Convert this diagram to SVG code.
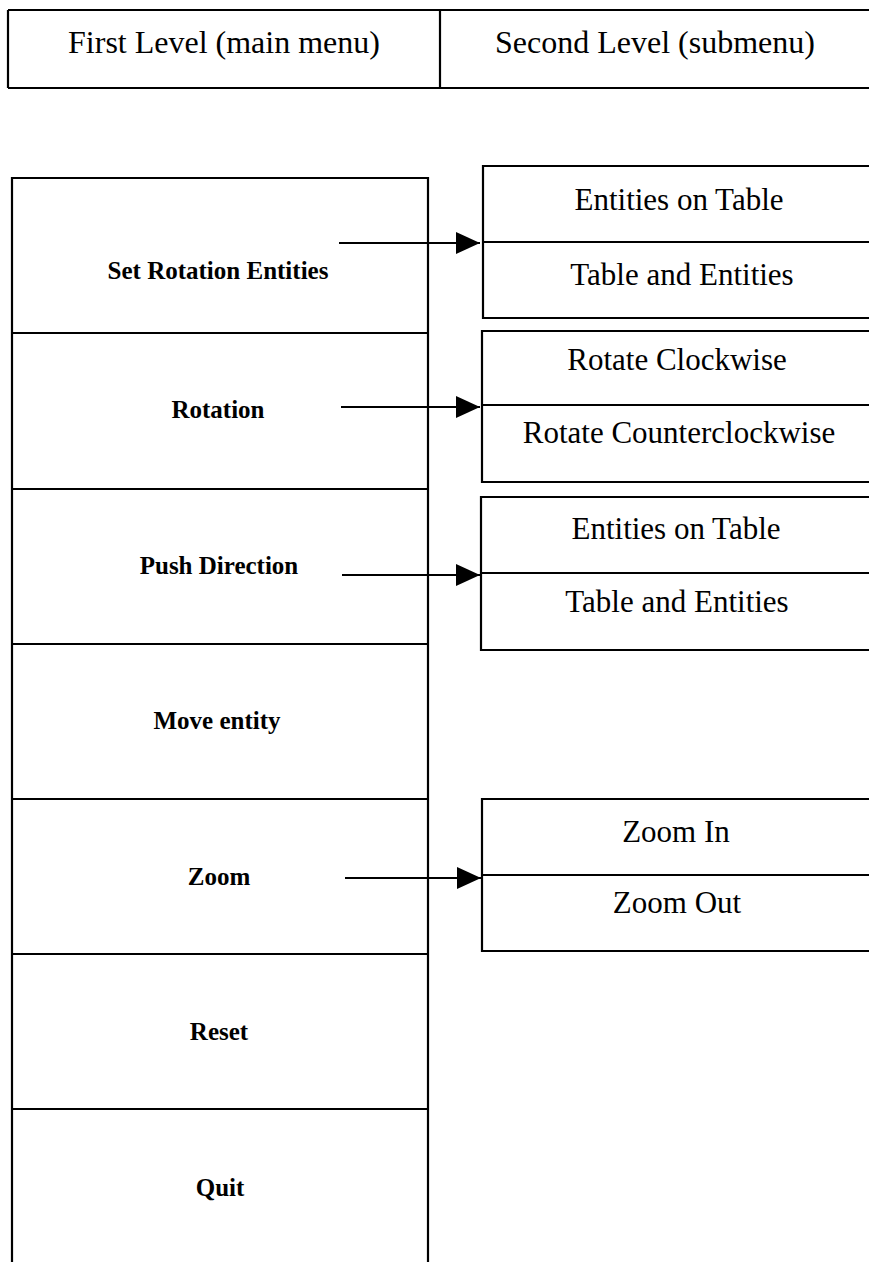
<svg xmlns="http://www.w3.org/2000/svg" width="869" height="1262" viewBox="0 0 869 1262">
<style>
.ln{stroke:#000;stroke-width:2.2;fill:none}
.hd{font-family:"Liberation Serif",serif;font-size:32px;text-anchor:middle;fill:#000}
.sub{font-family:"Liberation Serif",serif;font-size:31px;text-anchor:middle;fill:#000}
.lt{font-family:"Liberation Serif",serif;font-size:25px;font-weight:bold;text-anchor:middle;fill:#000}
</style>
<defs>
<marker id="ah" markerWidth="24" markerHeight="22" refX="24" refY="11" orient="auto" markerUnits="userSpaceOnUse">
<path d="M0,0 L24,11 L0,22 Z" fill="#000"/>
</marker>
</defs>
<rect width="869" height="1262" fill="#fff"/>
<g id="header">
<path class="ln" d="M8,10 H870 M8,88 H870 M8,10 V88 M440,10 V88"/>
<text class="hd" x="224" y="53">First Level (main menu)</text>
<text class="hd" x="655" y="53">Second Level (submenu)</text>
</g>
<g id="col1">
<path class="ln" d="M12,1262 V178 H428 V1262"/>
</g>
<g id="n-setrot"><text class="lt" x="218" y="279">Set Rotation Entities</text></g>
<g id="n-rotation"><path class="ln" d="M12,333 H428"/><text class="lt" x="218" y="418">Rotation</text></g>
<g id="n-push"><path class="ln" d="M12,489 H428"/><text class="lt" x="219" y="574">Push Direction</text></g>
<g id="n-move"><path class="ln" d="M12,644 H428"/><text class="lt" x="217" y="729">Move entity</text></g>
<g id="n-zoom"><path class="ln" d="M12,799 H428"/><text class="lt" x="219" y="885">Zoom</text></g>
<g id="n-reset"><path class="ln" d="M12,954 H428"/><text class="lt" x="219" y="1040">Reset</text></g>
<g id="n-quit"><path class="ln" d="M12,1109 H428"/><text class="lt" x="220" y="1196">Quit</text></g>
<g id="s-setrot">
<path class="ln" d="M870,166 H483 V318 H870 M483,242 H870"/>
<text class="sub" x="679" y="210">Entities on Table</text>
<text class="sub" x="682" y="285">Table and Entities</text>
</g>
<g id="s-rotation">
<path class="ln" d="M870,331 H482 V482 H870 M482,405 H870"/>
<text class="sub" x="677" y="370">Rotate Clockwise</text>
<text class="sub" x="679" y="443">Rotate Counterclockwise</text>
</g>
<g id="s-push">
<path class="ln" d="M870,497 H481 V650 H870 M481,573 H870"/>
<text class="sub" x="676" y="539">Entities on Table</text>
<text class="sub" x="677" y="612">Table and Entities</text>
</g>
<g id="s-zoom">
<path class="ln" d="M870,799 H482 V951 H870 M482,875 H870"/>
<text class="sub" x="676" y="842">Zoom In</text>
<text class="sub" x="677" y="913">Zoom Out</text>
</g>
<g id="connectors">
<line class="ln" x1="339" y1="243" x2="480" y2="243" marker-end="url(#ah)"/>
<line class="ln" x1="341" y1="407" x2="480" y2="407" marker-end="url(#ah)"/>
<line class="ln" x1="342" y1="575" x2="480" y2="575" marker-end="url(#ah)"/>
<line class="ln" x1="345" y1="878" x2="481" y2="878" marker-end="url(#ah)"/>
</g>
</svg>
